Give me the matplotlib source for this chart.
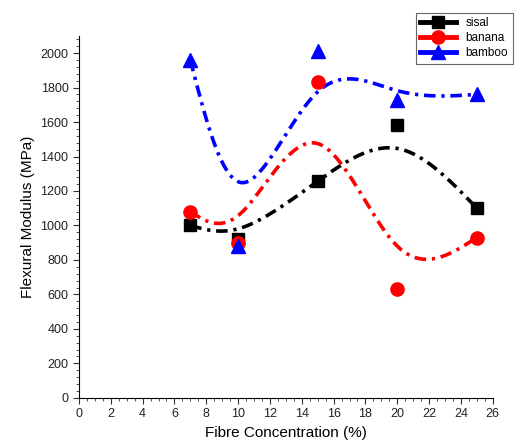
import numpy as np
import matplotlib.pyplot as plt
from matplotlib.ticker import MultipleLocator
from matplotlib.lines import Line2D

plt.rcParams['font.family'] = ['Liberation Sans', 'DejaVu Sans']

conc = [7, 10, 15, 20, 25]
sisal = [1000, 920, 1260, 1580, 1100]
banana = [1080, 900, 1830, 630, 930]
bamboo = [1960, 880, 2010, 1730, 1760]


def bspline(px, py, n=40):
    # uniform cubic B-spline, data points as control points, reflected ends
    px = np.asarray(px, float)
    py = np.asarray(py, float)
    px = np.r_[2 * px[0] - px[1], px, 2 * px[-1] - px[-2]]
    py = np.r_[2 * py[0] - py[1], py, 2 * py[-1] - py[-2]]
    u = np.linspace(0, 1, n)
    b0 = (1 - u) ** 3 / 6
    b1 = (3 * u ** 3 - 6 * u ** 2 + 4) / 6
    b2 = (-3 * u ** 3 + 3 * u ** 2 + 3 * u + 1) / 6
    b3 = u ** 3 / 6
    xs, ys = [], []
    for i in range(len(px) - 3):
        xs.append(b0 * px[i] + b1 * px[i + 1] + b2 * px[i + 2] + b3 * px[i + 3])
        ys.append(b0 * py[i] + b1 * py[i + 1] + b2 * py[i + 2] + b3 * py[i + 3])
    return np.concatenate(xs), np.concatenate(ys)


fig = plt.figure(figsize=(5.16, 4.48), dpi=100)
ax = fig.add_axes([0.153, 0.112, 0.802, 0.808])

series = [("sisal", sisal, "black", "s", 8.5),
          ("banana", banana, "red", "o", 9.5),
          ("bamboo", bamboo, "blue", "^", 9.5)]

handles = []
for name, vals, col, mk, ms in series:
    sx, sy = bspline(conc, vals)
    ax.plot(sx, sy, color=col, lw=2.6, dashes=(3.2, 1.6, 0.9, 1.6), zorder=2)
    ax.plot(conc, vals, ls="none", marker=mk, ms=ms, color=col, zorder=3)
    handles.append(Line2D([], [], color=col, lw=3.5, marker=mk, ms=ms))

ax.set_xlim(0, 26)
ax.set_ylim(0, 2100)
ax.xaxis.set_major_locator(MultipleLocator(2))
ax.xaxis.set_minor_locator(MultipleLocator(0.5))
ax.yaxis.set_major_locator(MultipleLocator(200))
ax.yaxis.set_minor_locator(MultipleLocator(40))
ax.spines['top'].set_visible(False)
ax.spines['right'].set_visible(False)
ax.tick_params(which='major', length=4, labelsize=9, colors='#333333', labelcolor='#222222')
ax.tick_params(which='minor', length=2.5, colors='#333333')
ax.set_xlabel("Fibre Concentration (%)", fontsize=11)
ax.set_ylabel("Flexural Modulus (MPa)", fontsize=11)

leg = fig.legend(handles, ["sisal", "banana", "bamboo"], loc="upper right",
                 bbox_to_anchor=(0.998, 0.977), fontsize=8.5, fancybox=False,
                 framealpha=1, edgecolor="#666666", handlelength=3.0,
                 labelspacing=0.25, borderpad=0.4, handletextpad=0.8,
                 borderaxespad=0.2)
leg.get_frame().set_linewidth(0.8)

fig.savefig("out.png", dpi=100)
